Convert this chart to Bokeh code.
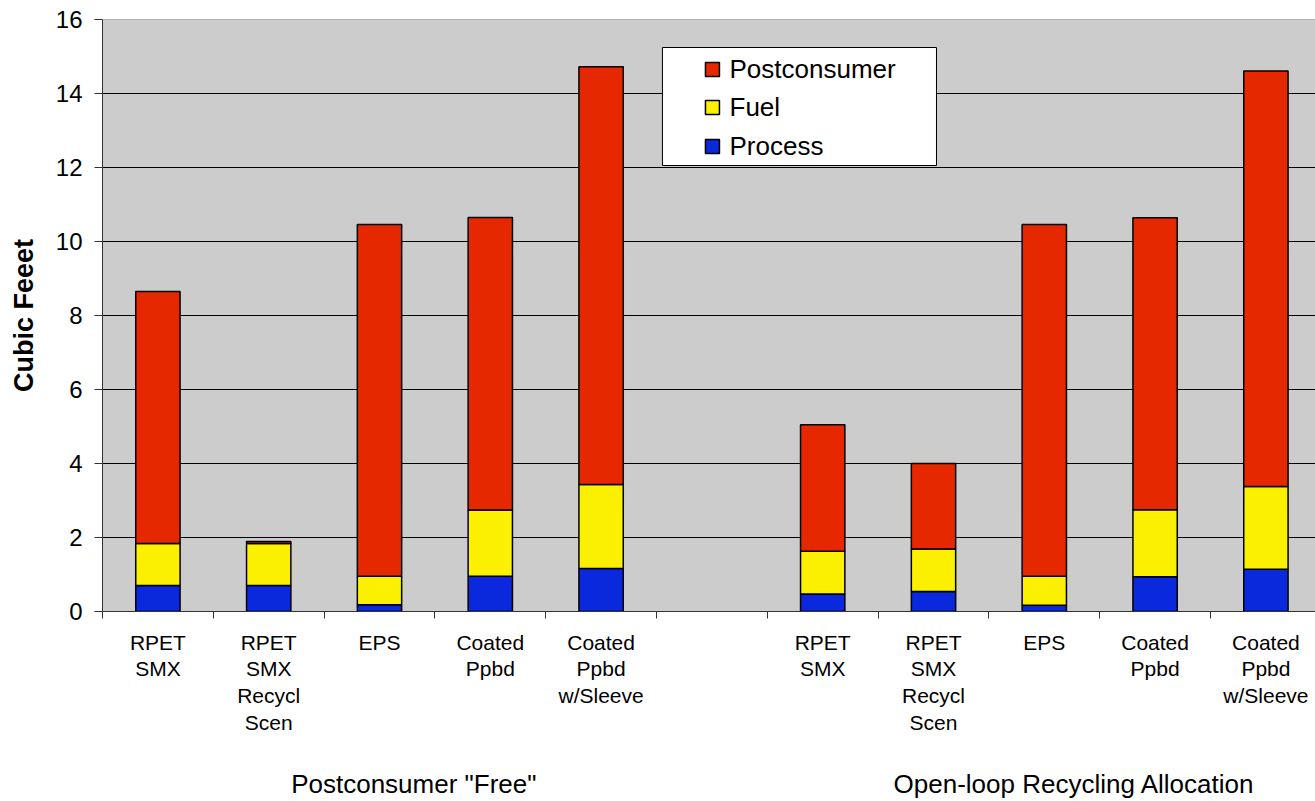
from bokeh.plotting import figure
from bokeh.models import ColumnDataSource, FixedTicker, LinearAxis, Span, Range1d
from bokeh.embed import file_html
from bokeh.resources import INLINE
from bokeh.core.properties import value

# Packaging options (x-axis labels) for each allocation approach
options = ["RPET\nSMX", "RPET\nSMX\nRecycl\nScen", "EPS", "Coated\nPpbd", "Coated\nPpbd\nw/Sleeve"]
group_names = ['Postconsumer "Free"', "Open-loop Recycling Allocation"]

# Solid waste volume, cubic feet
process_free = [0.70, 0.70, 0.18, 0.95, 1.16]
fuel_free = [1.14, 1.14, 0.77, 1.79, 2.27]
postconsumer_free = [6.81, 0.05, 9.51, 7.91, 11.29]

process_openloop = [0.47, 0.54, 0.17, 0.94, 1.14]
fuel_openloop = [1.16, 1.15, 0.78, 1.81, 2.24]
postconsumer_openloop = [3.42, 2.31, 9.51, 7.89, 11.23]

series = ["Process", "Fuel", "Postconsumer"]
series_colors = ["#0A28DC", "#FAF000", "#E62800"]

FONT = "Liberation Sans"
SLOT_PX = 110.8  # width of one category slot in pixels
LEFT, TOP, BOTTOM, W, H = 102, 19, 190, 1315, 801

# slot positions: five options, an empty slot, five options
xs = [i + 0.5 for i in range(5)] + [i + 6.5 for i in range(5)]
labels = options + options

src = ColumnDataSource(dict(
    x=xs,
    Process=process_free + process_openloop,
    Fuel=fuel_free + fuel_openloop,
    Postconsumer=postconsumer_free + postconsumer_openloop,
))

p = figure(width=W, height=H, output_backend="svg", toolbar_location=None,
           x_range=Range1d(0, (W - LEFT) / SLOT_PX), y_range=Range1d(0, 16),
           min_border_left=LEFT, min_border_right=0, min_border_top=TOP,
           min_border_bottom=BOTTOM)
p.background_fill_color = "#CCCCCC"
p.border_fill_color = "white"
p.outline_line_color = None

p.vbar_stack(series, x="x", width=0.4, source=src, fill_color=series_colors,
             line_color="black", line_width=1.5)

# y axis
p.yaxis.ticker = FixedTicker(ticks=list(range(0, 17, 2)))
p.yaxis.axis_label = "Cubic Feeet"
p.yaxis.axis_label_text_font = FONT
p.yaxis.axis_label_text_font_style = "bold"
p.yaxis.axis_label_text_font_size = "27px"
p.yaxis.axis_label_text_color = "black"
p.yaxis.axis_label_standoff = 14
p.yaxis.major_label_text_font = FONT
p.yaxis.major_label_text_font_size = "24px"
p.yaxis.major_label_text_color = "black"
p.yaxis.major_label_standoff = 12
p.yaxis.major_tick_out = 8
p.yaxis.major_tick_in = 0
p.yaxis.minor_tick_line_color = None
p.yaxis.axis_line_color = "#333333"
p.yaxis.major_tick_line_color = "#333333"

# x axis: labels at slot centres, tick marks at slot boundaries
p.xaxis.ticker = FixedTicker(ticks=xs, minor_ticks=list(range(0, 12)))
p.xaxis.major_label_overrides = {float(x): lab for x, lab in zip(xs, labels)}
p.xaxis.major_label_text_font = FONT
p.xaxis.major_label_text_font_size = "21px"
p.xaxis.major_label_text_color = "black"
p.xaxis.major_label_text_line_height = 1.17
p.xaxis.major_label_standoff = 12
p.xaxis.major_tick_out = 0
p.xaxis.major_tick_in = 0
p.xaxis.minor_tick_out = 7
p.xaxis.minor_tick_in = 0
p.xaxis.minor_tick_line_color = "#333333"
p.xaxis.axis_line_color = "#333333"

# group captions: a second, tickless axis under the option labels
group_x = [2.81, 8.77]
group_axis = LinearAxis(ticker=FixedTicker(ticks=group_x, minor_ticks=[]),
                        major_label_overrides={float(x): n for x, n in zip(group_x, group_names)},
                        major_label_text_font=FONT, major_label_text_font_size="26px",
                        major_label_text_color="black", major_label_standoff=25,
                        major_tick_line_color=None, minor_tick_line_color=None,
                        axis_line_color=None)
p.add_layout(group_axis, "below")

# grid
p.xgrid.grid_line_color = None
p.ygrid.ticker = FixedTicker(ticks=list(range(2, 15, 2)))
p.ygrid.grid_line_color = "black"
p.ygrid.grid_line_width = 1
p.add_layout(Span(location=16, dimension="width", line_color="#808080", line_width=1))

# legend box
p.quad(left=[5.054], right=[7.527], bottom=[12.054], top=[15.243],
       fill_color="white", line_color="black", line_width=1)
leg_y = [14.649, 13.622, 12.568]
leg_names = series[::-1]
leg_colors = series_colors[::-1]
p.rect(x=[5.505] * 3, y=leg_y, width=14, height=14, width_units="screen",
       height_units="screen", fill_color=leg_colors, line_color="black", line_width=1.5)
p.text(x=[5.659] * 3, y=leg_y, text=leg_names, text_font=value(FONT),
       text_font_size="26px", text_baseline="middle", text_align="left", text_color="black")

open("out.html", "w").write(file_html(p, INLINE))
